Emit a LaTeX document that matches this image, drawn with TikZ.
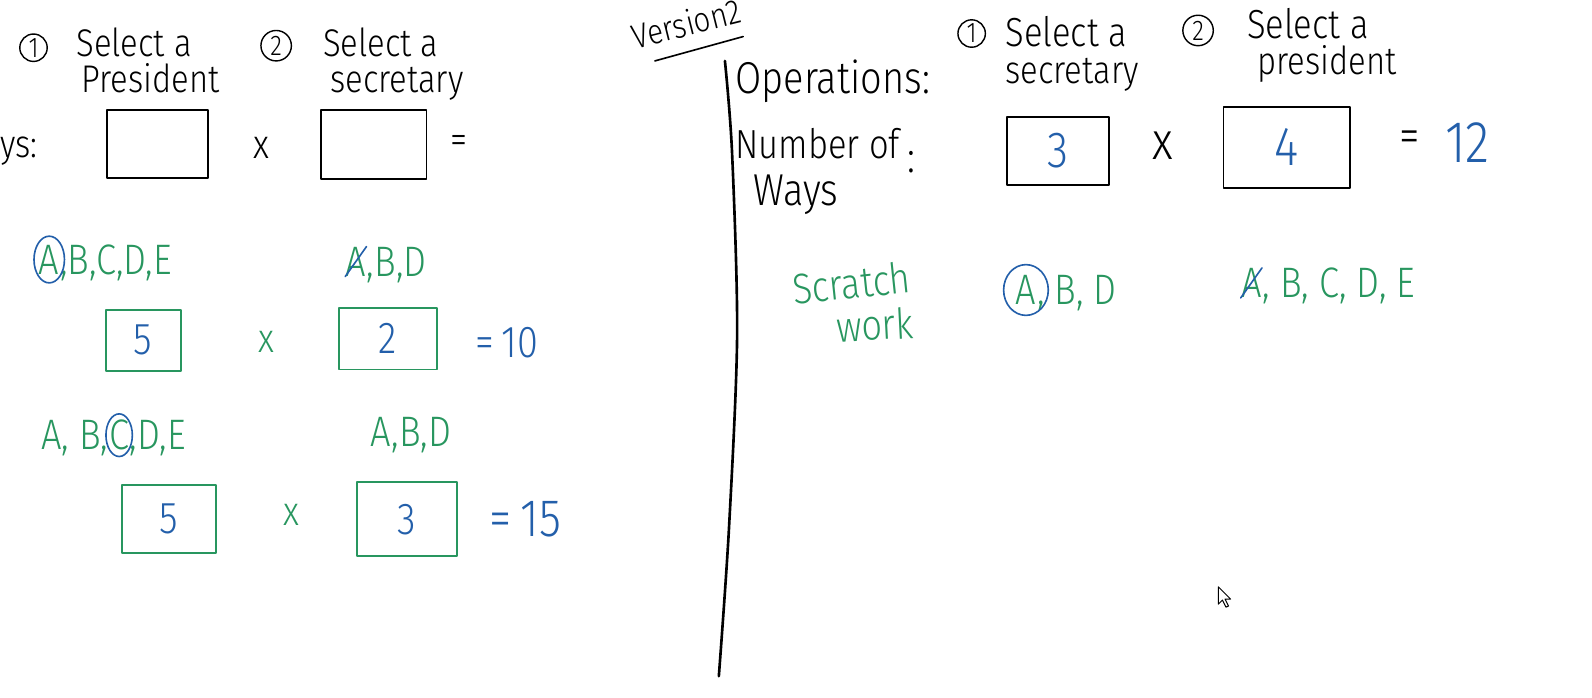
\documentclass[tikz,border=0pt]{standalone}
\usepackage{fontspec}
\newfontfamily\hand[FakeStretch=0.85]{Fira Sans Light}
\usetikzlibrary{positioning,shapes.geometric}
\definecolor{inkgreen}{RGB}{40,150,95}
\definecolor{inkblue}{RGB}{35,95,170}
\newcommand{\hsz}[1]{\hand\fontsize{#1}{#1}\selectfont}
\tikzset{
  every picture/.append style={line cap=round,line join=round},
  ink/.style={inner sep=0pt,anchor=base west},
  green ink/.style={ink,text=inkgreen,font=\hsz{21}},
  blue ink/.style={ink,text=inkblue},
  step num/.style={circle,draw,line width=0.7pt,inner sep=0pt,minimum size=13.5pt,font=\hsz{14}},
  answer box/.style={draw,line width=0.9pt,inner sep=0pt},
  scratch box/.style={draw=inkgreen,line width=0.9pt,inner sep=0pt,text=inkblue,font=\hsz{22}},
  pick/.style={ellipse,draw=inkblue,line width=0.8pt,inner sep=0pt},
  strike/.style={inkblue,line width=0.8pt}
}

\begin{document}
\begin{tikzpicture}[x=0.5pt,y=-0.5pt]
\useasboundingbox (0,0) rectangle (1568,687);
% version 1
\node[step num] (n1) at (33,47) {1};
\node[ink,font=\hsz{19}] (sel1) at (75,56) {Select a};
\node[ink,font=\hsz{19}] (pres1) at (80,91) {President};
\node[step num,minimum size=15pt] (n2) at (272,45) {2};
\node[ink,font=\hsz{19}] (sel2) at (318,56) {Select a};
\node[ink,font=\hsz{19}] (secr2) at (325,91) {secretary};
\node[ink,font=\hsz{19}] (ways1) at (0,155) {ys:};
\node[answer box,minimum width=50pt,minimum height=33.5pt] (lbox1) at (155,141.5) {};
\node[font=\hsz{20}] (times1) at (257,146) {x};
\node[answer box,minimum width=52pt,minimum height=34pt] (lbox2) at (368,142) {};
\node[font=\hsz{20}] (eq1) at (452,142) {=};
% first try
\node[green ink] (t1a) at (38,270) {A};
\node[green ink] (t1rest) at (t1a.base east) {,B,C,D,E};
\node[pick,minimum width=15pt,minimum height=23pt] (t1pick) at (t1a.center) {};
\node[green ink] (t1b) at (340,272) {A};
\node[green ink] (t1brest) at (t1b.base east) {,B,D};
\draw[strike] (t1b.south west) -- (t1b.north east);
\node[scratch box,minimum width=37pt,minimum height=30pt] (g1a) at (141,335) {5};
\node[text=inkgreen,font=\hsz{20}] (times2) at (262,337) {x};
\node[scratch box,minimum width=48pt,minimum height=30.5pt] (g1b) at (382,333.5) {2};
\node[blue ink,font=\hsz{22}] (res1) at (468,352) {=\,10};
% second try
\node[green ink] (t2a) at (40,443) {A, B,};
\node[green ink] (t2c) at (t2a.base east) {C};
\node[green ink] (t2rest) at (t2c.base east) {,D,E};
\node[pick,minimum width=13pt,minimum height=21pt] (t2pick) at (t2c.center) {};
\node[green ink] (t2b) at (365,440) {A,B,D};
\node[scratch box,minimum width=46.5pt,minimum height=33.5pt] (g2a) at (166.5,511.5) {5};
\node[text=inkgreen,font=\hsz{20}] (times3) at (287,507) {x};
\node[scratch box,minimum width=49pt,minimum height=36.5pt] (g2b) at (401,511.5) {3};
\node[blue ink,font=\hsz{26}] (res2) at (482,528) {=\,15};
% version 2
\node[font=\hsz{17},rotate=14,inner sep=1pt] (ver) at (676,23) {Version2};
\draw[line width=0.8pt] (645,60) -- (732,36);
\draw[line width=1.3pt] plot[smooth] coordinates {(714,60) (721,150) (726,330) (718,520) (708,666)};
\node[ink,font=\hsz{22}] (ops) at (724,92) {Operations:};
\node[ink,font=\hsz{20}] (numof) at (724,156) {Number of};
\node[ink,font=\hsz{22}] (ways) at (742,202) {Ways};
\node[ink,font=\hsz{22}] (colon) at (893,170) {:};
\node[step num] (m1) at (957,33) {1};
\node[ink,font=\hsz{20}] (rsel1) at (990,46) {Select a};
\node[ink,font=\hsz{19}] (rsecr1) at (990,82) {secretary};
\node[step num,minimum size=15pt] (m2) at (1180,30) {2};
\node[ink,font=\hsz{20}] (rsel2) at (1228,38) {Select a};
\node[ink,font=\hsz{19}] (rpres2) at (1238,73) {president};
\node[answer box,minimum width=50pt,minimum height=33.5pt,text=inkblue,font=\hsz{25}] (rbox1) at (1042,148.5) {3};
\node[font=\hsz{26}] (times4) at (1145,143) {x};
\node[answer box,minimum width=62.5pt,minimum height=40pt,text=inkblue,font=\hsz{27}] (rbox2) at (1267.5,145) {4};
\node[ink,font=\hsz{24}] (eq2) at (1378,150) {=};
\node[blue ink,font=\hsz{29}] (res3) at (1423,160) {12};
% scratch work
\node[green ink,rotate=6] (scr) at (782,300) {Scratch};
\node[green ink,rotate=3] (work) at (824,337) {work};
\node[green ink] (u1a) at (1000,300) {A};
\node[green ink] (u1rest) at (u1a.base east) {, B, D};
\node[pick,minimum width=22pt,minimum height=25pt] (u1pick) at (u1a.center) {};
\node[green ink] (u1b) at (1222,293) {A};
\node[green ink] (u1brest) at (u1b.base east) {, B, C, D, E};
\draw[strike] (u1b.south west) -- (u1b.north east);
% pointer
\draw[fill=white,line width=0.5pt] (1200,578) -- ++(0,17) -- ++(4,-4) -- ++(3.5,7) -- ++(2.5,-1.2) -- ++(-3.5,-6.8) -- ++(5.5,0) -- cycle;
\end{tikzpicture}
\end{document}
